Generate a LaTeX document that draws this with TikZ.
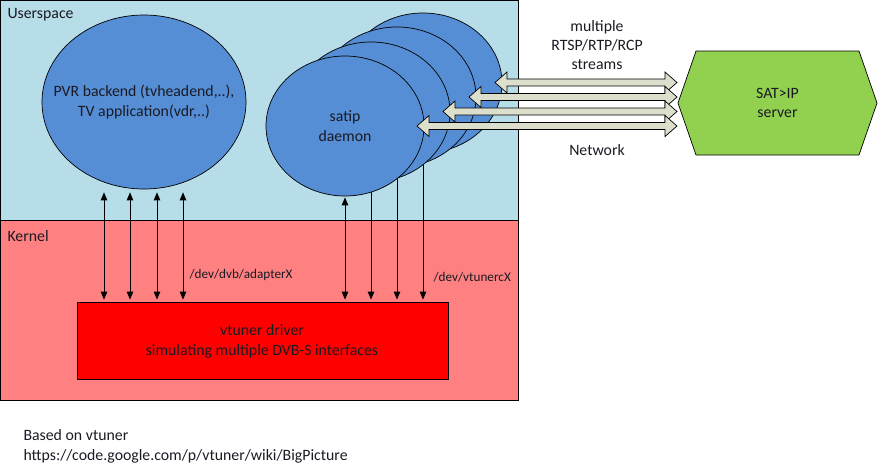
\documentclass[tikz,border=0pt]{standalone}
\usepackage{fontspec}
\setmainfont{Carlito}
\usetikzlibrary{shapes.geometric,arrows.meta,calc}
\pgfdeclarelayer{bg}
\pgfdeclarelayer{lines}
\pgfsetlayers{bg,lines,main}
\definecolor{userc}{HTML}{B7DDE8}
\definecolor{kernc}{HTML}{FF8080}
\definecolor{ellc}{HTML}{558ED5}
\definecolor{drvc}{HTML}{FF0000}
\definecolor{srvc}{HTML}{92D050}
\definecolor{netc}{HTML}{DCDFCB}
\definecolor{txtc}{HTML}{1A1A24}
\tikzset{
  region/.style={draw=black, line width=0.8pt, inner sep=0pt, anchor=north west},
  proc/.style={ellipse, draw=black, line width=0.7pt, fill=ellc, inner sep=0pt},
  maintext/.style={font=\fontsize{15.8}{19.8}\selectfont, align=center, text=txtc},
  smalltext/.style={font=\fontsize{13.2}{15}\selectfont, text=txtc},
  dbl/.style={line width=0.8pt, {Triangle[length=8pt,width=6.5pt]}-{Triangle[length=8pt,width=6.5pt]}},
  sgl/.style={line width=0.8pt, -{Triangle[length=8pt,width=6.5pt]}},
  netarrow/.style={draw=black, line width=0.7pt, fill=netc, line join=miter},
}
\newcommand{\netdbl}[2]{\draw[netarrow] (#1) -- ++(12,10.5) -- ++(0,-7) -- ($(#2)+(-12,3.5)$) -- ++(0,7) -- (#2) -- ++(-12,-10.5) -- ++(0,7) -- ($(#1)+(12,-3.5)$) -- ++(0,-7) -- cycle;}
\begin{document}
\begin{tikzpicture}[x=1pt,y=-1pt]
\useasboundingbox (0,0) rectangle (878,467);
% regions
\begin{pgfonlayer}{bg}
\node[region, fill=userc, minimum width=518pt, minimum height=220pt] (user) at (0.4,0.4) {};
\node[region, fill=kernc, minimum width=518pt, minimum height=180pt] (kern) at (0.4,220) {};
\end{pgfonlayer}
\node[maintext, anchor=west] (userlbl) at (4,15) {Userspace};
\node[maintext, anchor=west] (kernlbl) at (4,236) {Kernel};
% driver
\node[draw=black, line width=0.8pt, fill=drvc, minimum width=371pt, minimum height=77pt, inner sep=0pt] (drv) at (262.5,340.5) {};
\node[maintext] (drvtxt) at (262,341) {vtuner driver\\simulating multiple DVB-S interfaces};
% PVR ellipse
\node[proc, minimum width=204pt, minimum height=174pt] (pvr) at (144,102) {};
\node[maintext] (pvrtxt) at (144,102) {PVR backend (tvheadend,..),\\TV application(vdr,..)};
% satip ellipses (back to front)
\node[proc, minimum width=158pt, minimum height=140pt] (s4) at (423,83) {};
\node[proc, minimum width=158pt, minimum height=140pt] (s3) at (397,97) {};
\node[proc, minimum width=158pt, minimum height=140pt] (s2) at (371,112) {};
\node[proc, minimum width=158pt, minimum height=140pt] (s1) at (345,126) {};
\node[maintext] (s1txt) at (345,126) {satip\\daemon};
% PVR <-> driver arrows
\foreach \dx/\n in {-40/a,-14/b,13/c,39/d}{
  \draw[dbl] ([xshift=\dx pt,yshift=-3pt]pvr.south) coordinate (p\n) -- ([yshift=2pt]p\n |- drv.north);
}
% satip <-> driver arrows
\draw[dbl] ([yshift=-1pt]s1.south) -- ([yshift=2pt]s1.south |- drv.north);
\begin{pgfonlayer}{lines}
\draw[sgl] (s2.south) -- ([yshift=2pt]s2.south |- drv.north);
\draw[sgl] (s3.south) -- ([yshift=2pt]s3.south |- drv.north);
\draw[sgl] (s4.south) -- ([yshift=2pt]s4.south |- drv.north);
\end{pgfonlayer}
\node[smalltext, anchor=west] (advlbl) at (186,275) {/dev/dvb/adapterX};
\node[smalltext, anchor=west] (vtlbl) at (430,277) {/dev/vtunercX};
% server
\path[draw=black, line width=0.7pt, fill=srvc] (678,103) coordinate (srvw) -- (696,51) -- (859,51) -- (877,103) -- (859,155) -- (696,155) -- cycle;
\node[maintext] (srvtxt) at (777.5,103) {SAT>IP\\server};
% network arrows
\coordinate (l1) at (495,82.5);
\coordinate (l2) at (469,97);
\coordinate (l3) at (443,111.5);
\coordinate (l4) at (417,126);
\coordinate (r1) at (677,82.5);
\coordinate (r2) at (677,97);
\coordinate (r3) at (677,111.5);
\coordinate (r4) at (677,126);
\netdbl{l1}{r1}
\netdbl{l2}{r2}
\netdbl{l3}{r3}
\netdbl{l4}{r4}
\node[maintext, font=\fontsize{15.8}{19}\selectfont] (strtxt) at (597,45.5) {multiple\\RTSP/RTP/RCP\\streams};
\node[maintext] (nettxt) at (597,150) {Network};
% footer
\node[maintext, anchor=west, align=left] (foot) at (20,446) {Based on vtuner\\https://code.google.com/p/vtuner/wiki/BigPicture};
\end{tikzpicture}
\end{document}
